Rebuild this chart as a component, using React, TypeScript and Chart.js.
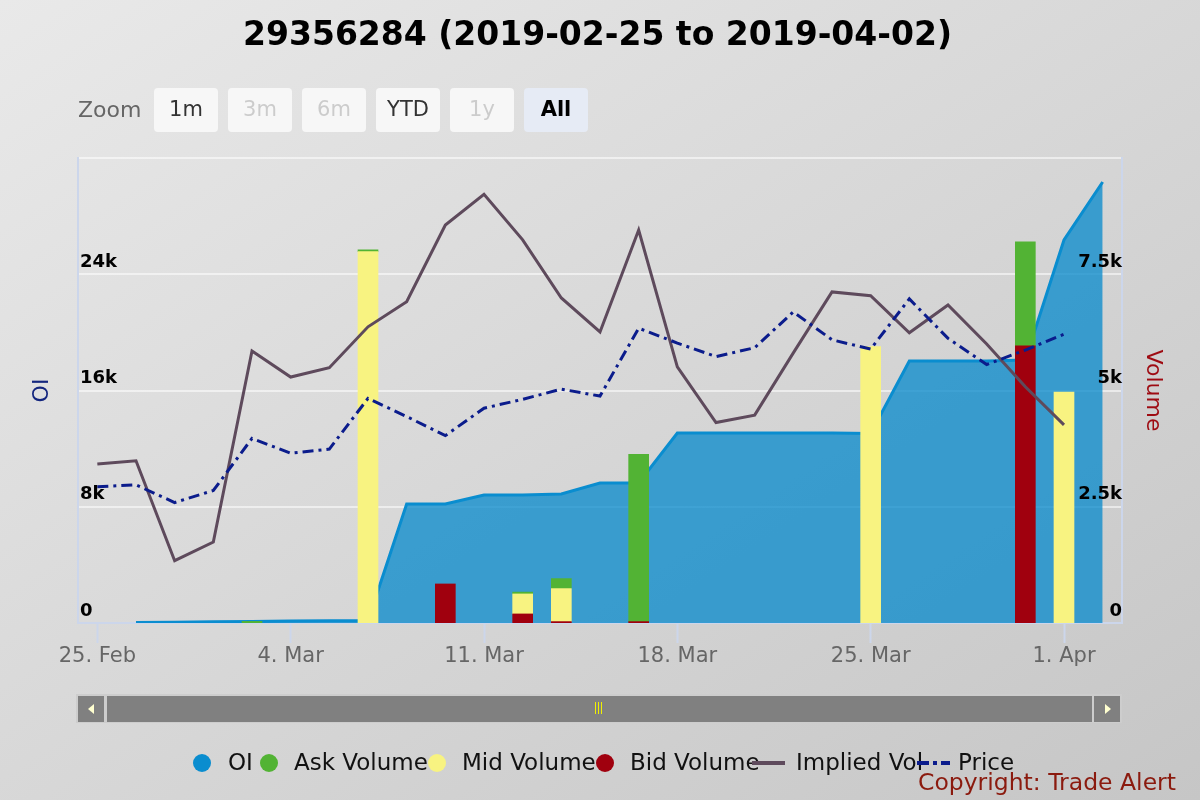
import React, { useEffect, useRef } from "react";
import { Chart, registerables } from "chart.js";

Chart.register(...registerables);

const FONT = "'DejaVu Sans', sans-serif";

const titleText = "29356284 (2019-02-25 to 2019-04-02)";

// trading days (ordinal x axis)
const categories = [
  "2019-02-25", "2019-02-26", "2019-02-27", "2019-02-28", "2019-03-01",
  "2019-03-04", "2019-03-05", "2019-03-06", "2019-03-07", "2019-03-08",
  "2019-03-11", "2019-03-12", "2019-03-13", "2019-03-14", "2019-03-15",
  "2019-03-18", "2019-03-19", "2019-03-20", "2019-03-21", "2019-03-22",
  "2019-03-25", "2019-03-26", "2019-03-27", "2019-03-28", "2019-03-29",
  "2019-04-01", "2019-04-02",
];

const tickDates = ["2019-02-25", "2019-03-04", "2019-03-11", "2019-03-18", "2019-03-25", "2019-04-01"];
const tickLabels = ["25. Feb", "4. Mar", "11. Mar", "18. Mar", "25. Mar", "1. Apr"];

const oiValues = [
  null, 40, 60, 80, 110,
  140, 160, 160, 8190, 8190,
  8810, 8810, 8880, 9635, 9635,
  13075, 13075, 13075, 13075, 13075,
  13040, 18030, 18030, 18030, 18100,
  26360, 30350,
];

const askVolume = [
  null, null, null, null, 35,
  null, null, 40, null, null,
  null, 40, 215, null, 3600,
  null, null, null, null, null,
  null, null, null, null, 2237,
  null, null,
];

const midVolume = [
  null, null, null, null, null,
  null, null, 7985, null, null,
  null, 430, 710, null, null,
  null, null, null, null, null,
  5946, null, null, null, null,
  4968, null,
];

const bidVolume = [
  null, null, null, null, null,
  null, null, null, null, 840,
  null, 195, 30, null, 30,
  null, null, null, null, null,
  null, null, null, null, 5960,
  null, null,
];

const impliedVol = [
  34.2, 34.9, 13.4, 17.4, 58.5,
  52.9, 54.9, 63.7, 69.1, 85.6,
  92.2, 82.4, 69.9, 62.6, 84.5,
  55.1, 43.1, 44.7, 58.1, 71.2,
  70.4, 62.4, 68.4, 60.0, 50.8,
  42.6, null,
];

const priceValues = [
  29.3, 29.7, 25.9, 28.5, 39.7,
  36.5, 37.4, 48.3, 44.4, 40.3,
  46.2, 48.1, 50.3, 48.8, 63.4,
  60.2, 57.3, 59.2, 66.9, 60.9,
  58.9, 69.7, 61.2, 55.6, 58.7,
  62.1, null,
];

const zoomButtons = ["1m", "3m", "6m", "YTD", "1y", "All"];
const zoomDisabled = ["3m", "6m", "1y"];
const zoomSelected = "All";

const C_OI = "#0a8dcf";
const C_OI_FILL = "rgba(8,138,204,0.76)";
const C_ASK = "#52b334";
const C_MID = "#f8f381";
const C_BID = "#a0000e";
const C_IV = "#5e4a5c";
const C_PRICE = "#0b1c8c";
const C_AXIS = "#ccd6eb";

function fmtK(v: number) {
  return v === 0 ? "0" : v / 1000 + "k";
}

export default function App() {
  const canvasRef = useRef<HTMLCanvasElement>(null);

  useEffect(() => {
    const canvas = canvasRef.current;
    if (!canvas) return;
    Chart.defaults.font.family = FONT;
    const chart = new Chart(canvas, {
      type: "bar",
      data: {
        labels: categories,
        datasets: [
          {
            type: "line",
            label: "OI",
            data: oiValues,
            yAxisID: "yOI",
            borderColor: C_OI,
            backgroundColor: C_OI_FILL,
            fill: "origin",
            borderWidth: 3,
            pointRadius: 0,
            tension: 0,
            order: 10,
          },
          {
            type: "bar",
            label: "Bid Volume",
            data: bidVolume,
            yAxisID: "yVol",
            backgroundColor: C_BID,
            barThickness: 20,
            order: 2,
          },
          {
            type: "bar",
            label: "Mid Volume",
            data: midVolume,
            yAxisID: "yVol",
            backgroundColor: C_MID,
            barThickness: 20,
            order: 3,
          },
          {
            type: "bar",
            label: "Ask Volume",
            data: askVolume,
            yAxisID: "yVol",
            backgroundColor: C_ASK,
            barThickness: 20,
            order: 4,
          },
          {
            type: "line",
            label: "Implied Vol",
            data: impliedVol,
            yAxisID: "yIV",
            borderColor: C_IV,
            borderWidth: 3,
            pointRadius: 0,
            tension: 0,
            fill: false,
            order: 1,
          },
          {
            type: "line",
            label: "Price",
            data: priceValues,
            yAxisID: "yPrice",
            borderColor: C_PRICE,
            borderWidth: 3,
            borderDash: [11, 5, 3, 5],
            pointRadius: 0,
            tension: 0,
            fill: false,
            order: 0,
          },
        ] as any,
      },
      options: {
        responsive: false,
        animation: false,
        events: [],
        layout: { padding: { left: 24.6, right: 29.6, top: 0, bottom: 129.8 } },
        plugins: {
          legend: { display: false },
          tooltip: { enabled: false },
          title: {
            display: true,
            text: titleText,
            color: "#000",
            font: { family: FONT, size: 33, weight: "bold" },
            padding: { top: 16.2, bottom: 102.2 },
          },
        },
        scales: {
          x: {
            type: "category",
            offset: true,
            stacked: true,
            grid: {
              display: true,
              offset: false,
              drawOnChartArea: false,
              drawTicks: true,
              tickLength: 20,
              tickColor: C_AXIS,
              tickWidth: 2,
              color: C_AXIS,
            },
            border: { display: true, color: C_AXIS, width: 2 },
            ticks: {
              autoSkip: false,
              maxRotation: 0,
              minRotation: 0,
              padding: 1,
              color: "#666",
              font: { family: FONT, size: 21 },
              callback: (value: any) => {
                const i = tickDates.indexOf(categories[value as number]);
                return i >= 0 ? tickLabels[i] : "";
              },
            },
            afterBuildTicks: (scale: any) => {
              scale.ticks = scale.ticks.filter((t: any) => tickDates.includes(categories[t.value]));
            },
          },
          yIV: {
            type: "linear",
            position: "left",
            display: true,
            min: 0,
            max: 100,
            ticks: { display: false, stepSize: 25 },
            grid: {
              display: true,
              drawTicks: false,
              lineWidth: 2,
              color: (ctx: any) =>
                ctx.tick && ctx.tick.value === 0 ? "rgba(0,0,0,0)" : "rgba(255,255,255,0.55)",
            },
            border: { display: false },
          },
          yPrice: {
            type: "linear",
            position: "left",
            display: false,
            min: 0,
            max: 100,
          },
          yOI: {
            type: "linear",
            position: "left",
            min: 0,
            max: 32000,
            ticks: {
              z: 1,
              stepSize: 8000,
              mirror: true,
              padding: 2,
              labelOffset: -12,
              color: "#000",
              font: { family: FONT, size: 18, weight: "bold" },
              callback: (v: any) => (v === 32000 ? "" : fmtK(v)),
            },
            grid: { display: false, drawTicks: false },
            border: { display: true, color: C_AXIS, width: 2 },
            title: {
              display: true,
              text: "OI",
              color: "#14267e",
              font: { family: FONT, size: 22 },
              padding: { top: 4, bottom: 19 },
            },
          },
          yVol: {
            type: "linear",
            position: "right",
            min: 0,
            max: 10000,
            stacked: true,
            ticks: {
              z: 1,
              stepSize: 2500,
              mirror: true,
              padding: 0,
              labelOffset: -12,
              color: "#000",
              font: { family: FONT, size: 18, weight: "bold" },
              callback: (v: any) => (v === 10000 ? "" : fmtK(v)),
            },
            grid: { display: false, drawTicks: false },
            border: { display: true, color: C_AXIS, width: 2 },
            title: {
              display: true,
              text: "Volume",
              color: "#9e0b12",
              font: { family: FONT, size: 22 },
              padding: { top: 4, bottom: 18 },
            },
          },
        } as any,
      },
    });
    return () => chart.destroy();
  }, []);

  const legendItems = [
    { label: "OI", color: C_OI, kind: "circle", mx: 202, tx: 228 },
    { label: "Ask Volume", color: C_ASK, kind: "circle", mx: 269, tx: 294 },
    { label: "Mid Volume", color: C_MID, kind: "circle", mx: 437, tx: 462 },
    { label: "Bid Volume", color: C_BID, kind: "circle", mx: 605, tx: 630 },
    { label: "Implied Vol", color: C_IV, kind: "line", mx: 768, tx: 796 },
    { label: "Price", color: C_PRICE, kind: "dash", mx: 933, tx: 958 },
  ];

  return (
    <div
      style={{
        position: "fixed",
        left: 0,
        top: 0,
        width: 1200,
        height: 800,
        overflow: "hidden",
        background: "linear-gradient(to bottom right, #e9e9e9, #c6c6c6)",
        fontFamily: FONT,
      }}
    >
      <canvas
        ref={canvasRef}
        width={1200}
        height={800}
        style={{ position: "absolute", left: 0, top: 0, width: 1200, height: 800 }}
      />

      {/* range selector */}
      <div
        style={{
          position: "absolute",
          left: 78,
          top: 96,
          height: 28,
          lineHeight: "28px",
          fontSize: 22,
          color: "#666",
        }}
      >
        Zoom
      </div>
      {zoomButtons.map((b, i) => {
        const disabled = zoomDisabled.includes(b);
        const selected = b === zoomSelected;
        return (
          <div
            key={b}
            style={{
              position: "absolute",
              left: 154 + i * 74,
              top: 88,
              width: 64,
              height: 44,
              borderRadius: 4,
              background: selected ? "#e6ebf5" : "#f7f7f7",
              color: disabled ? "#cccccc" : selected ? "#000" : "#333",
              fontWeight: selected ? "bold" : "normal",
              fontSize: 21,
              lineHeight: "42px",
              textAlign: "center",
            }}
          >
            {b}
          </div>
        );
      })}

      {/* scrollbar */}
      <div style={{ position: "absolute", left: 76, top: 694, width: 1046, height: 29, background: "#cdcdcd" }} />
      <div style={{ position: "absolute", left: 78, top: 696, width: 26, height: 26, background: "#808080" }} />
      <div style={{ position: "absolute", left: 107, top: 696, width: 985, height: 26, background: "#808080" }} />
      <div style={{ position: "absolute", left: 1094, top: 696, width: 26, height: 26, background: "#808080" }} />
      <div
        style={{
          position: "absolute",
          left: 88,
          top: 704,
          width: 0,
          height: 0,
          borderTop: "5px solid transparent",
          borderBottom: "5px solid transparent",
          borderRight: "6px solid #ffffd0",
        }}
      />
      <div
        style={{
          position: "absolute",
          left: 1105,
          top: 704,
          width: 0,
          height: 0,
          borderTop: "5px solid transparent",
          borderBottom: "5px solid transparent",
          borderLeft: "6px solid #ffffd0",
        }}
      />
      {[595, 598, 601].map((x) => (
        <div key={x} style={{ position: "absolute", left: x, top: 702, width: 1, height: 12, background: "#f0f000" }} />
      ))}

      {/* legend */}
      {legendItems.map((it) => (
        <React.Fragment key={it.label}>
          {it.kind === "circle" && (
            <div
              style={{
                position: "absolute",
                left: it.mx - 9,
                top: 754,
                width: 18,
                height: 18,
                borderRadius: 9,
                background: it.color,
              }}
            />
          )}
          {it.kind === "line" && (
            <div style={{ position: "absolute", left: it.mx - 16, top: 761, width: 33, height: 4, background: it.color }} />
          )}
          {it.kind === "dash" && (
            <svg style={{ position: "absolute", left: it.mx - 16, top: 757 }} width={33} height={12}>
              <line x1={0} y1={6} x2={33} y2={6} stroke={it.color} strokeWidth={4} strokeDasharray="12 4 4 4" />
            </svg>
          )}
          <div
            style={{
              position: "absolute",
              left: it.tx,
              top: 747,
              height: 30,
              lineHeight: "30px",
              fontSize: 23,
              color: "#111",
              whiteSpace: "nowrap",
            }}
          >
            {it.label}
          </div>
        </React.Fragment>
      ))}

      <div
        style={{
          position: "absolute",
          left: 918,
          top: 767,
          height: 30,
          lineHeight: "30px",
          fontSize: 23.5,
          color: "#8b1a0e",
          whiteSpace: "nowrap",
        }}
      >
        Copyright: Trade Alert
      </div>
    </div>
  );
}
